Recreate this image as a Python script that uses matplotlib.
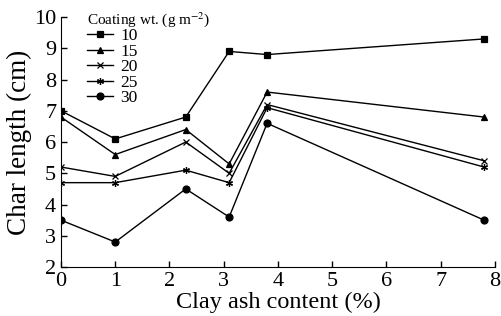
import matplotlib.pyplot as plt

plt.rcParams['font.family'] = ['Liberation Serif', 'DejaVu Serif']
plt.rcParams['mathtext.fontset'] = 'stix'

clay_ash = [0, 1, 2.3, 3.1, 3.8, 7.8]
coating = ['10', '15', '20', '25', '30']
char_10 = [7.0, 6.1, 6.8, 8.9, 8.8, 9.3]
char_15 = [6.8, 5.6, 6.4, 5.3, 7.6, 6.8]
char_20 = [5.2, 4.9, 6.0, 5.0, 7.2, 5.4]
char_25 = [4.7, 4.7, 5.1, 4.7, 7.1, 5.2]
char_30 = [3.5, 2.8, 4.5, 3.6, 6.6, 3.5]
markers = ['s', '^', 'x', (6, 2, 0), 'o']

fig = plt.figure(figsize=(5.02, 3.16), dpi=100)
ax = fig.add_axes([0.1215, 0.155, 0.8645, 0.791])

for lab, ys, m in zip(coating, [char_10, char_15, char_20, char_25, char_30], markers):
    ax.plot(clay_ash, ys, color='black', lw=1.0, marker=m, markersize=5,
            markeredgewidth=0.9, label=lab)

ax.set_xlim(0, 8)
ax.set_ylim(2, 10)
ax.set_xticks(range(0, 9))
ax.set_yticks(range(2, 11))
ax.spines['top'].set_visible(False)
ax.spines['right'].set_visible(False)
ax.tick_params(direction='in', length=4, labelsize=16, width=1)
ax.set_xlabel('Clay ash content (%)', fontsize=17.5, labelpad=1)
ax.set_ylabel('Char length (cm)', fontsize=19.5, labelpad=1)

leg = ax.legend(title='Coating wt. (g m$^{-2}$)', loc='upper left', frameon=False,
                fontsize=12.5, title_fontsize=11, handlelength=1.5, handletextpad=0.4,
                labelspacing=-0.04, borderaxespad=0, borderpad=0,
                bbox_to_anchor=(0.06, 1.028))
leg._legend_box.align = 'left'

fig.savefig('out.png', dpi=100)
